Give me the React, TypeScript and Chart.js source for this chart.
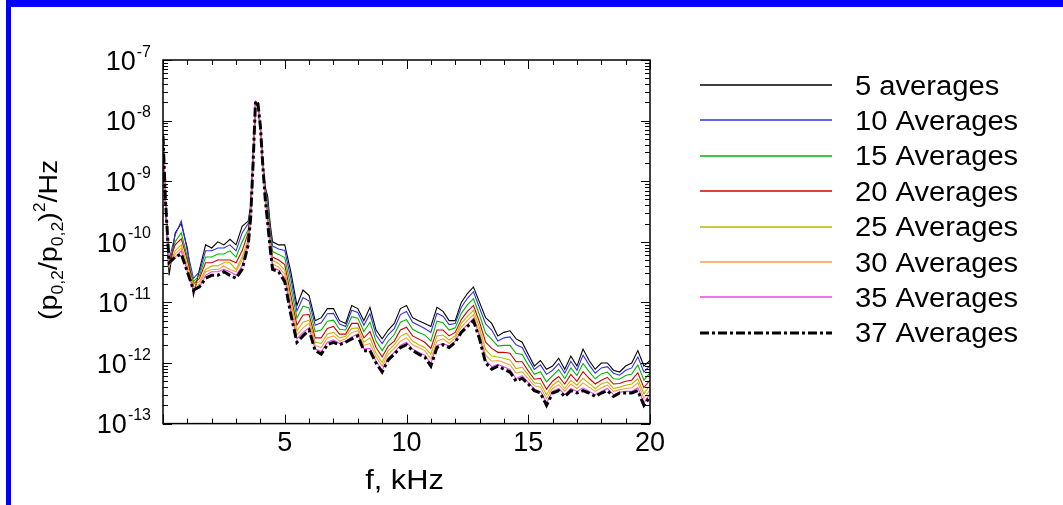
import React, { useEffect, useRef } from "react";
import { Chart, registerables } from "chart.js";
Chart.register(...registerables);

const FONT = "'Liberation Sans', Arial, Helvetica, sans-serif";

// frequency, kHz
const freqKHz = [
  0, 0.1, 0.25, 0.5, 0.75, 1, 1.25, 1.5, 1.75, 2, 2.25, 2.5, 2.75, 3, 3.25, 3.5,
  3.6, 3.7, 3.8, 3.9, 4.0, 4.1, 4.2, 4.3, 4.4, 4.5,
  4.75, 5, 5.25, 5.5, 5.75, 6, 6.25, 6.5, 6.75, 7, 7.25, 7.5, 7.75, 8,
  8.25, 8.5, 8.75, 9, 9.25, 9.5, 9.75, 10, 10.25, 10.5, 10.75, 11, 11.25, 11.5, 11.75, 12,
  12.25, 12.5, 12.75, 13, 13.25, 13.5, 13.75, 14, 14.25, 14.5, 14.75, 15, 15.25, 15.5, 15.75, 16,
  16.25, 16.5, 16.75, 17, 17.25, 17.5, 17.75, 18, 18.25, 18.5, 18.75, 19, 19.25, 19.5, 19.75, 20,
];

const avg5 = [
  5.6e-9, 4.0e-10, 2.8e-11, 1.4e-10, 2.0e-10, 7.9e-11, 1.3e-11, 3.5e-11, 8.9e-11, 7.9e-11, 1.0e-10, 8.9e-11, 1.1e-10, 8.9e-11, 1.8e-10, 2.2e-10,
  4.0e-10, 2.5e-9, 1.8e-8, 1.7e-8, 7.0e-9, 2.0e-9, 7.9e-10, 5.6e-10, 2.0e-10, 1.0e-10,
  8.9e-11, 8.9e-11, 3.2e-11, 8.9e-12, 1.6e-11, 1.3e-11, 5.0e-12, 5.6e-12, 7.9e-12, 7.9e-12, 5.0e-12, 4.5e-12, 8.9e-12, 7.9e-12,
  5.0e-12, 8.3e-12, 3.5e-12, 2.5e-12, 3.5e-12, 4.5e-12, 7.9e-12, 8.9e-12, 5.6e-12, 5.0e-12, 4.5e-12, 4.0e-12, 8.3e-12, 7.1e-12, 5.0e-12, 5.0e-12,
  1.0e-11, 1.4e-11, 1.8e-11, 1.0e-11, 5.6e-12, 4.5e-12, 2.8e-12, 3.2e-12, 3.4e-12, 2.5e-12, 2.2e-12, 1.4e-12, 8.9e-13, 1.1e-12, 7.9e-13, 8.9e-13,
  1.2e-12, 7.9e-13, 1.3e-12, 8.9e-13, 1.7e-12, 1.1e-12, 7.9e-13, 1.0e-12, 1.0e-12, 7.6e-13, 7.1e-13, 8.9e-13, 1.0e-12, 1.6e-12, 8.9e-13, 1.1e-12,
];

const avg10 = [
  5.6e-9, 4.2e-10, 5.0e-11, 1.3e-10, 2.2e-10, 7.1e-11, 2.5e-11, 3.2e-11, 7.1e-11, 7.1e-11, 7.9e-11, 7.9e-11, 8.9e-11, 7.1e-11, 1.4e-10, 2.0e-10,
  3.5e-10, 2.4e-9, 1.85e-8, 1.75e-8, 7.5e-9, 2.0e-9, 7.5e-10, 4.8e-10, 1.7e-10, 8.5e-11,
  7.6e-11, 7.2e-11, 2.5e-11, 7.2e-12, 1.2e-11, 1.05e-11, 4.2e-12, 4.6e-12, 6.5e-12, 6.6e-12, 4.4e-12, 4.0e-12, 7.4e-12, 6.8e-12,
  4.2e-12, 6.5e-12, 2.9e-12, 2.1e-12, 2.95e-12, 3.7e-12, 6.3e-12, 7.1e-12, 4.7e-12, 4.2e-12, 3.7e-12, 3.2e-12, 6.6e-12, 5.9e-12, 4.3e-12, 4.5e-12,
  8.3e-12, 1.17e-11, 1.5e-11, 8.1e-12, 4.4e-12, 3.5e-12, 2.3e-12, 2.6e-12, 2.7e-12, 2.0e-12, 1.8e-12, 1.17e-12, 7.8e-13, 9.3e-13, 6.5e-13, 7.6e-13,
  9.8e-13, 6.8e-13, 1.07e-12, 7.6e-13, 1.35e-12, 9.3e-13, 6.8e-13, 8.3e-13, 8.7e-13, 6.8e-13, 6.3e-13, 7.6e-13, 8.3e-13, 1.26e-12, 7.1e-13, 9.1e-13,
];

const avg15 = [
  5.6e-9, 4.5e-10, 4.5e-11, 1.0e-10, 1.41e-10, 5.6e-11, 2.2e-11, 2.8e-11, 5.6e-11, 5.6e-11, 6.3e-11, 6.3e-11, 7.1e-11, 5.6e-11, 1.0e-10, 1.6e-10,
  3.5e-10, 2.3e-9, 1.9e-8, 1.8e-8, 7.5e-9, 1.95e-9, 6.8e-10, 3.9e-10, 1.45e-10, 6.9e-11,
  6.2e-11, 5.5e-11, 1.8e-11, 5.5e-12, 8.7e-12, 8.1e-12, 3.3e-12, 3.5e-12, 4.9e-12, 5.1e-12, 3.6e-12, 3.5e-12, 5.8e-12, 5.5e-12,
  3.3e-12, 4.7e-12, 2.3e-12, 1.6e-12, 2.3e-12, 2.95e-12, 4.7e-12, 5.2e-12, 3.6e-12, 3.2e-12, 2.9e-12, 2.3e-12, 4.9e-12, 4.6e-12, 3.5e-12, 3.8e-12,
  6.6e-12, 9.1e-12, 1.15e-11, 6.2e-12, 3.1e-12, 2.45e-12, 1.9e-12, 1.95e-12, 1.95e-12, 1.45e-12, 1.38e-12, 9.3e-13, 6.5e-13, 7.2e-13, 4.9e-13, 6.2e-13,
  7.8e-13, 5.5e-13, 8.3e-13, 6.2e-13, 9.8e-13, 7.2e-13, 5.5e-13, 6.6e-13, 7.1e-13, 5.5e-13, 5.4e-13, 6.2e-13, 6.6e-13, 9.3e-13, 5.2e-13, 6.9e-13,
];

const avg20 = [
  5.6e-9, 4.7e-10, 4.5e-11, 8.9e-11, 1.12e-10, 5.0e-11, 2.0e-11, 2.5e-11, 4.5e-11, 4.5e-11, 5.0e-11, 5.0e-11, 5.0e-11, 4.5e-11, 7.1e-11, 1.4e-10,
  3.2e-10, 2.2e-9, 1.95e-8, 1.8e-8, 7.8e-9, 1.9e-9, 6.2e-10, 3.2e-10, 1.2e-10, 5.6e-11,
  5.0e-11, 4.2e-11, 1.3e-11, 4.2e-12, 6.2e-12, 6.3e-12, 2.6e-12, 2.6e-12, 3.7e-12, 4.0e-12, 3.0e-12, 3.0e-12, 4.5e-12, 4.5e-12,
  2.6e-12, 3.3e-12, 1.8e-12, 1.26e-12, 1.9e-12, 2.3e-12, 3.5e-12, 3.9e-12, 2.8e-12, 2.5e-12, 2.2e-12, 1.74e-12, 3.5e-12, 3.5e-12, 2.8e-12, 3.2e-12,
  5.2e-12, 7.1e-12, 8.9e-12, 4.7e-12, 2.2e-12, 1.74e-12, 1.5e-12, 1.5e-12, 1.45e-12, 1.05e-12, 1.05e-12, 7.4e-13, 5.4e-13, 5.6e-13, 3.7e-13, 5.0e-13,
  6.0e-13, 4.5e-13, 6.5e-13, 5.0e-13, 7.2e-13, 5.6e-13, 4.5e-13, 5.2e-13, 5.8e-13, 4.5e-13, 4.6e-13, 5.0e-13, 5.2e-13, 6.9e-13, 3.9e-13, 5.2e-13,
];

const avg25 = [
  5.6e-9, 4.8e-10, 4.0e-11, 7.1e-11, 8.9e-11, 4.0e-11, 2.0e-11, 2.2e-11, 3.5e-11, 4.0e-11, 4.0e-11, 4.5e-11, 4.5e-11, 3.5e-11, 5.6e-11, 1.1e-10,
  2.8e-10, 2.1e-9, 2.0e-8, 1.85e-8, 7.9e-9, 1.85e-9, 5.8e-10, 2.7e-10, 1.05e-10, 4.9e-11,
  4.4e-11, 3.4e-11, 1.0e-11, 3.4e-12, 4.7e-12, 5.1e-12, 2.2e-12, 2.1e-12, 3.0e-12, 3.2e-12, 2.6e-12, 2.75e-12, 3.7e-12, 3.8e-12,
  2.2e-12, 2.6e-12, 1.45e-12, 1.02e-12, 1.6e-12, 2.0e-12, 2.75e-12, 3.1e-12, 2.3e-12, 2.0e-12, 1.8e-12, 1.4e-12, 2.8e-12, 2.9e-12, 2.4e-12, 2.8e-12,
  4.5e-12, 5.8e-12, 7.4e-12, 3.8e-12, 1.66e-12, 1.3e-12, 1.26e-12, 1.2e-12, 1.12e-12, 8.1e-13, 8.5e-13, 6.3e-13, 4.7e-13, 4.6e-13, 3.0e-13, 4.3e-13,
  5.1e-13, 3.8e-13, 5.2e-13, 4.3e-13, 5.6e-13, 4.6e-13, 3.8e-13, 4.5e-13, 4.9e-13, 3.8e-13, 4.0e-13, 4.3e-13, 4.5e-13, 5.5e-13, 3.1e-13, 4.3e-13,
];

const avg30 = [
  5.6e-9, 4.9e-10, 4.0e-11, 6.3e-11, 7.9e-11, 3.5e-11, 1.8e-11, 2.0e-11, 3.2e-11, 3.5e-11, 3.5e-11, 4.0e-11, 3.5e-11, 3.2e-11, 5.0e-11, 1.0e-10,
  2.8e-10, 2.0e-9, 2.0e-8, 1.85e-8, 7.9e-9, 1.8e-9, 5.5e-10, 2.4e-10, 9.3e-11, 4.3e-11,
  3.8e-11, 2.9e-11, 8.5e-12, 2.9e-12, 3.8e-12, 4.5e-12, 1.95e-12, 1.8e-12, 2.6e-12, 2.8e-12, 2.3e-12, 2.5e-12, 3.2e-12, 3.4e-12,
  1.95e-12, 2.1e-12, 1.26e-12, 8.9e-13, 1.4e-12, 1.74e-12, 2.3e-12, 2.6e-12, 2.0e-12, 1.8e-12, 1.6e-12, 1.17e-12, 2.3e-12, 2.5e-12, 2.1e-12, 2.6e-12,
  3.9e-12, 5.0e-12, 6.3e-12, 3.2e-12, 1.35e-12, 1.07e-12, 1.1e-12, 1.02e-12, 9.3e-13, 6.8e-13, 7.2e-13, 5.5e-13, 4.2e-13, 4.0e-13, 2.6e-13, 3.8e-13,
  4.4e-13, 3.4e-13, 4.5e-13, 3.8e-13, 4.7e-13, 4.0e-13, 3.4e-13, 3.9e-13, 4.3e-13, 3.4e-13, 3.6e-13, 3.8e-13, 3.9e-13, 4.7e-13, 2.6e-13, 3.6e-13,
];

const avg35 = [
  5.6e-9, 5.0e-10, 4.5e-11, 5.6e-11, 7.1e-11, 3.2e-11, 1.6e-11, 1.8e-11, 2.8e-11, 3.2e-11, 3.2e-11, 3.5e-11, 3.2e-11, 2.8e-11, 4.0e-11, 8.9e-11,
  2.5e-10, 2.0e-9, 2.1e-8, 1.9e-8, 8.0e-9, 1.8e-9, 5.1e-10, 2.1e-10, 8.3e-11, 3.8e-11,
  3.4e-11, 2.5e-11, 6.9e-12, 2.5e-12, 3.2e-12, 3.8e-12, 1.7e-12, 1.55e-12, 2.2e-12, 2.4e-12, 2.1e-12, 2.3e-12, 2.7e-12, 3.0e-12,
  1.7e-12, 1.74e-12, 1.07e-12, 7.6e-13, 1.2e-12, 1.5e-12, 1.95e-12, 2.2e-12, 1.7e-12, 1.5e-12, 1.35e-12, 9.8e-13, 1.95e-12, 2.1e-12, 1.9e-12, 2.3e-12,
  3.4e-12, 4.3e-12, 5.4e-12, 2.75e-12, 1.1e-12, 8.7e-13, 9.5e-13, 8.7e-13, 7.8e-13, 5.5e-13, 6.2e-13, 4.8e-13, 3.7e-13, 3.4e-13, 2.2e-13, 3.4e-13,
  3.8e-13, 3.0e-13, 3.8e-13, 3.4e-13, 3.9e-13, 3.4e-13, 3.0e-13, 3.4e-13, 3.8e-13, 3.0e-13, 3.3e-13, 3.4e-13, 3.4e-13, 3.9e-13, 2.2e-13, 3.1e-13,
];

const avg37 = [
  5.6e-9, 5.0e-10, 4.5e-11, 5.6e-11, 6.3e-11, 3.2e-11, 1.6e-11, 1.8e-11, 2.5e-11, 2.8e-11, 2.8e-11, 3.2e-11, 2.8e-11, 2.5e-11, 3.5e-11, 8.9e-11,
  2.5e-10, 2.0e-9, 2.1e-8, 1.9e-8, 8.0e-9, 1.8e-9, 5.0e-10, 2.0e-10, 7.9e-11, 3.5e-11,
  3.2e-11, 2.2e-11, 6.3e-12, 2.2e-12, 2.8e-12, 3.5e-12, 1.6e-12, 1.4e-12, 2.0e-12, 2.2e-12, 2.0e-12, 2.2e-12, 2.5e-12, 2.8e-12,
  1.6e-12, 1.6e-12, 1.0e-12, 7.1e-13, 1.12e-12, 1.4e-12, 1.8e-12, 2.0e-12, 1.6e-12, 1.4e-12, 1.26e-12, 8.9e-13, 1.8e-12, 2.0e-12, 1.8e-12, 2.2e-12,
  3.2e-12, 4.0e-12, 5.0e-12, 2.5e-12, 1.0e-12, 7.9e-13, 8.9e-13, 7.9e-13, 7.1e-13, 5.0e-13, 5.6e-13, 4.5e-13, 3.5e-13, 3.2e-13, 2.0e-13, 3.2e-13,
  3.5e-13, 2.8e-13, 3.5e-13, 3.2e-13, 3.5e-13, 3.2e-13, 2.8e-13, 3.2e-13, 3.5e-13, 2.8e-13, 3.2e-13, 3.2e-13, 3.2e-13, 3.5e-13, 2.0e-13, 2.8e-13,
];

const seriesLabels = [
  "5 averages", "10 Averages", "15 Averages", "20 Averages",
  "25 Averages", "30 Averages", "35 Averages", "37 Averages",
];
const seriesValues = [avg5, avg10, avg15, avg20, avg25, avg30, avg35, avg37];
const seriesColors = [
  "#000000", "#3030e0", "#00b400", "#d00000",
  "#c0b400", "#f5a040", "#ee40ee", "#000000",
];

const xTickValues = [5, 10, 15, 20];
const yTickExponents = [-13, -12, -11, -10, -9, -8, -7];
const xTitle = "f, kHz";
const yTitleParts = [
  { text: "(p", kind: "n" },
  { text: "0,2", kind: "sub" },
  { text: "/p", kind: "n" },
  { text: "0,2", kind: "sub" },
  { text: ")", kind: "n" },
  { text: "2", kind: "sup" },
  { text: "/Hz", kind: "n" },
];

const decorPlugin = {
  id: "decor",
  afterDraw(chart: any) {
    const { ctx, chartArea: ca, scales } = chart;
    const xs = scales.x;
    const ys = scales.y;
    ctx.save();
    ctx.fillStyle = "#000";
    ctx.strokeStyle = "#000";

    // frame
    ctx.lineWidth = 1.5;
    ctx.strokeRect(ca.left, ca.top, ca.right - ca.left, ca.bottom - ca.top);

    // inward ticks
    ctx.lineWidth = 1;
    const seg = (x1: number, y1: number, x2: number, y2: number) => {
      ctx.beginPath();
      ctx.moveTo(x1, y1);
      ctx.lineTo(x2, y2);
      ctx.stroke();
    };
    for (let f = 0; f <= 20; f++) {
      const px = Math.round(xs.getPixelForValue(f)) + 0.5;
      const len = f % 5 === 0 ? 9 : 5;
      seg(px, ca.bottom, px, ca.bottom - len);
      seg(px, ca.top, px, ca.top + len);
    }
    for (const e of yTickExponents) {
      for (let m = 1; m <= 9; m++) {
        if (e === -7 && m > 1) break;
        const py = Math.round(ys.getPixelForValue(m * Math.pow(10, e))) + 0.5;
        const len = m === 1 ? 9 : 5;
        seg(ca.left, py, ca.left + len, py);
        seg(ca.right, py, ca.right - len, py);
      }
    }

    // y tick labels 10^e
    const rightX = 151;
    for (const e of yTickExponents) {
      const py = ys.getPixelForValue(Math.pow(10, e));
      ctx.font = `16px ${FONT}`;
      const sup = String(e);
      const w2 = ctx.measureText(sup).width;
      ctx.font = `27px ${FONT}`;
      const w1 = ctx.measureText("10").width;
      ctx.textAlign = "left";
      ctx.textBaseline = "alphabetic";
      ctx.fillText("10", rightX - w2 - w1 - 1, py + 9.7);
      ctx.font = `16px ${FONT}`;
      ctx.fillText(sup, rightX - w2, py - 3.5);
    }

    // x title
    ctx.save();
    ctx.font = `28px ${FONT}`;
    ctx.translate((ca.left + ca.right) / 2 - 2, 489);
    ctx.scale(1.1, 1);
    ctx.textAlign = "center";
    ctx.fillText(xTitle, 0, 0);
    ctx.restore();

    // y title (rotated)
    ctx.save();
    ctx.translate(57, (ca.top + ca.bottom) / 2 - 2);
    ctx.rotate(-Math.PI / 2);
    ctx.scale(1.1, 1);
    const fontFor = (k: string) => (k === "n" ? `26px ${FONT}` : `16px ${FONT}`);
    let total = 0;
    for (const p of yTitleParts) {
      ctx.font = fontFor(p.kind);
      total += ctx.measureText(p.text).width;
    }
    let x = -total / 2;
    ctx.textAlign = "left";
    for (const p of yTitleParts) {
      ctx.font = fontFor(p.kind);
      const dy = p.kind === "sub" ? 6 : p.kind === "sup" ? -12 : 0;
      ctx.fillText(p.text, x, dy);
      x += ctx.measureText(p.text).width;
    }
    ctx.restore();

    // legend
    const ds = chart.data.datasets;
    for (let i = 0; i < ds.length; i++) {
      const y = 85 + i * 35.4;
      ctx.save();
      ctx.strokeStyle = ds[i].borderColor;
      ctx.lineWidth = i === ds.length - 1 ? 3 : 1.6;
      ctx.setLineDash(ds[i].borderDash || []);
      seg(700, Math.round(y), 832, Math.round(y));
      ctx.restore();
      ctx.save();
      ctx.font = `27px ${FONT}`;
      ctx.fillStyle = "#000";
      ctx.translate(855, y + 9.5);
      ctx.scale(1.08, 1);
      ctx.textAlign = "left";
      ctx.fillText(ds[i].label, 0, 0);
      ctx.restore();
    }
    ctx.restore();
  },
};

export default function App() {
  const canvasRef = useRef<HTMLCanvasElement | null>(null);

  useEffect(() => {
    const canvas = canvasRef.current;
    if (!canvas) return;
    const datasets = seriesValues.map((vals, i) => ({
      label: seriesLabels[i],
      data: freqKHz.map((f, j) => ({ x: f, y: vals[j] })),
      borderColor: seriesColors[i],
      backgroundColor: seriesColors[i],
      borderWidth: i === 7 ? 3 : 1.1,
      borderDash: i === 7 ? [9, 3, 3, 3] : [],
      pointRadius: 0,
      tension: 0,
      fill: false,
      order: 7 - i,
    }));
    const chart = new Chart(canvas, {
      type: "line",
      data: { datasets },
      options: {
        animation: false,
        responsive: false,
        maintainAspectRatio: false,
        layout: { padding: { left: 163, top: 60, right: 413, bottom: 41 } },
        plugins: { legend: { display: false }, tooltip: { enabled: false }, title: { display: false } },
        scales: {
          x: {
            type: "linear",
            min: 0,
            max: 20,
            grid: { display: false, drawTicks: false },
            border: { display: false },
            ticks: {
              stepSize: 5,
              autoSkip: false,
              maxRotation: 0,
              padding: 4,
              color: "#000",
              font: { family: FONT, size: 27 },
              callback: (v: any) => (xTickValues.includes(Number(v)) ? String(v) : ""),
            },
          },
          y: {
            type: "logarithmic",
            min: 1e-13,
            max: 1e-7,
            display: false,
          },
        },
      },
      plugins: [decorPlugin],
    } as any);
    return () => chart.destroy();
  }, []);

  return (
    <div style={{ position: "absolute", left: 0, top: 0, width: 1063, height: 505, background: "#fff", overflow: "hidden" }}>
      <div
        style={{
          position: "absolute",
          left: 6,
          top: 0,
          width: 1100,
          height: 600,
          borderTop: "7px solid #0000ff",
          borderLeft: "5px solid #0000ff",
        }}
      />
      <canvas ref={canvasRef} width={1063} height={505} style={{ position: "absolute", left: 0, top: 0 }} />
    </div>
  );
}
